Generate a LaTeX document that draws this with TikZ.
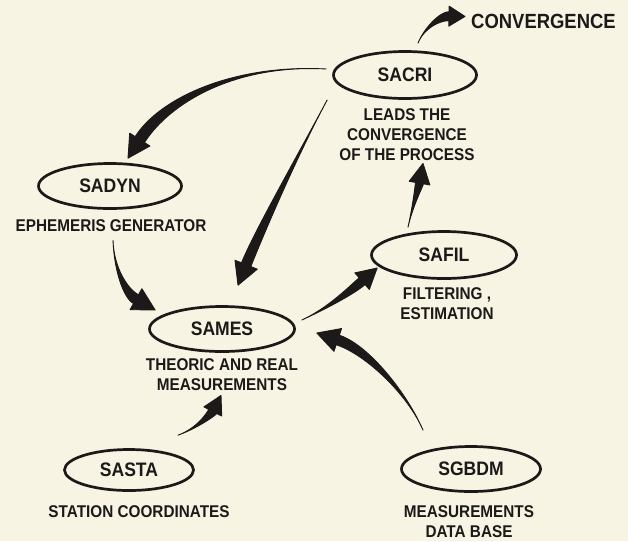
\documentclass[tikz,border=0pt]{standalone}
\usepackage{fontspec}
\setmainfont[FakeStretch=0.9]{Liberation Sans}
\usetikzlibrary{calc,shapes.geometric}
\definecolor{paper}{RGB}{247,244,228}
\definecolor{ink}{RGB}{28,26,24}
% tapered curved arrow: start, control1, control2, tip, shaft half width, head half width, head length
\newcommand\tarrow[7]{%
  \coordinate (tH) at ($(#4)!#7!(#3)$);
  \coordinate (tHl) at ($(tH)!#5!90:(#4)$);
  \coordinate (tHr) at ($(tH)!#5!-90:(#4)$);
  \coordinate (tBl) at ($(tH)!#6!90:(#4)$);
  \coordinate (tBr) at ($(tH)!#6!-90:(#4)$);
  \filldraw[ink, line width=0.9pt, line join=round]
    (#1) .. controls (#2) and ($(#3)+(tHl)-(tH)$) .. (tHl) -- (tBl) -- (#4) -- (tBr) -- (tHr)
    .. controls ($(#3)+(tHr)-(tH)$) and (#2) .. (#1) -- cycle;
}
\tikzset{
  proc/.style={ellipse, draw=ink, line width=2.7pt, inner sep=0pt, minimum height=47pt,
    text=ink, font=\fontsize{19.5}{22}\selectfont\bfseries},
  lbl/.style={font=\fontsize{17}{20}\selectfont\bfseries, text=ink, align=center,
    inner sep=0pt, anchor=north}
}
\begin{document}
\begin{tikzpicture}[x=1pt,y=-1pt]
\fill[paper] (0,0) rectangle (628,541);
\useasboundingbox (0,0) rectangle (628,541);

% process ellipses
\node[proc, minimum width=143pt] (sacri) at (405,75) {SACRI};
\node[proc, minimum width=143pt, minimum height=45pt] (sadyn) at (110,186) {SADYN};
\node[proc, minimum width=145pt, minimum height=45pt] (sames) at (222,329) {SAMES};
\node[proc, minimum width=145pt] (safil) at (444,255) {SAFIL};
\node[proc, minimum width=129pt, minimum height=41pt] (sasta) at (129,470) {SASTA};
\node[proc, minimum width=139pt, minimum height=45pt] (sgbdm) at (471,469) {SGBDM};

% captions
\node[lbl, anchor=north west, font=\fontsize{20.5}{22}\selectfont\bfseries] (conv) at (471,14) {CONVERGENCE};
\node[lbl] (sacrilbl) at (407,108) {LEADS THE\\CONVERGENCE\\OF THE PROCESS};
\node[lbl] (sadynlbl) at (111,219) {EPHEMERIS GENERATOR};
\node[lbl] (sameslbl) at (222,358) {THEORIC AND REAL\\MEASUREMENTS};
\node[lbl] (safillbl) at (447,287) {FILTERING ,\\ESTIMATION};
\node[lbl] (sastalbl) at (139,505) {STATION COORDINATES};
\node[lbl] (sgbdmlbl) at (469,505) {MEASUREMENTS\\DATA BASE};

% SACRI -> CONVERGENCE
\coordinate (a1s) at ($(sacri.north)+(13,-7)$);
\coordinate (a1t) at ($(conv.west)+(-6,-5)$);
\tarrow{a1s}{424,28}{440,16}{a1t}{4.5pt}{10pt}{16pt}

% SACRI -> SADYN
\coordinate (a2s) at ($(sacri.west)+(-6,-6)$);
\coordinate (a2t) at ($(sadyn.north)+(18,-4)$);
\tarrow{a2s}{235,64}{165,100}{a2t}{5.5pt}{12pt}{22pt}

% SACRI -> SAMES
\coordinate (a3s) at ($(sacri.west)+(-5,25)$);
\coordinate (a3t) at ($(sames.north)+(16,-20)$);
\tarrow{a3s}{295,160}{258,235}{a3t}{5pt}{12pt}{22pt}

% SADYN -> SAMES
\coordinate (a4s) at ($(sadynlbl.south)+(2,9)$);
\coordinate (a4t) at ($(sames.west)+(7,-19)$);
\tarrow{a4s}{114,268}{125,293}{a4t}{5pt}{12pt}{22pt}

% SAMES -> SAFIL
\coordinate (a5s) at ($(sames.east)+(6,-9)$);
\coordinate (a5t) at ($(safil.west)+(7,13)$);
\tarrow{a5s}{328,308}{352,290}{a5t}{4.5pt}{11pt}{20pt}

% SAFIL -> SACRI
\coordinate (a6s) at ($(safil.north)+(-36,-3)$);
\coordinate (a6t) at ($(sacrilbl.south)+(16,3)$);
\tarrow{a6s}{413,205}{419,186}{a6t}{4pt}{10.5pt}{20pt}

% SGBDM -> SAMES
\coordinate (a7s) at ($(sgbdm.north)+(-48,-15)$);
\coordinate (a7t) at ($(sames.east)+(21,4)$);
\tarrow{a7s}{408,395}{368,350}{a7t}{5pt}{12pt}{22pt}

% SASTA -> SAMES
\coordinate (a8s) at ($(sasta.north)+(49,-13)$);
\coordinate (a8t) at ($(sameslbl.south)+(-1,5)$);
\tarrow{a8s}{198,428}{212,413}{a8t}{4.5pt}{10pt}{18pt}
\end{tikzpicture}
\end{document}
